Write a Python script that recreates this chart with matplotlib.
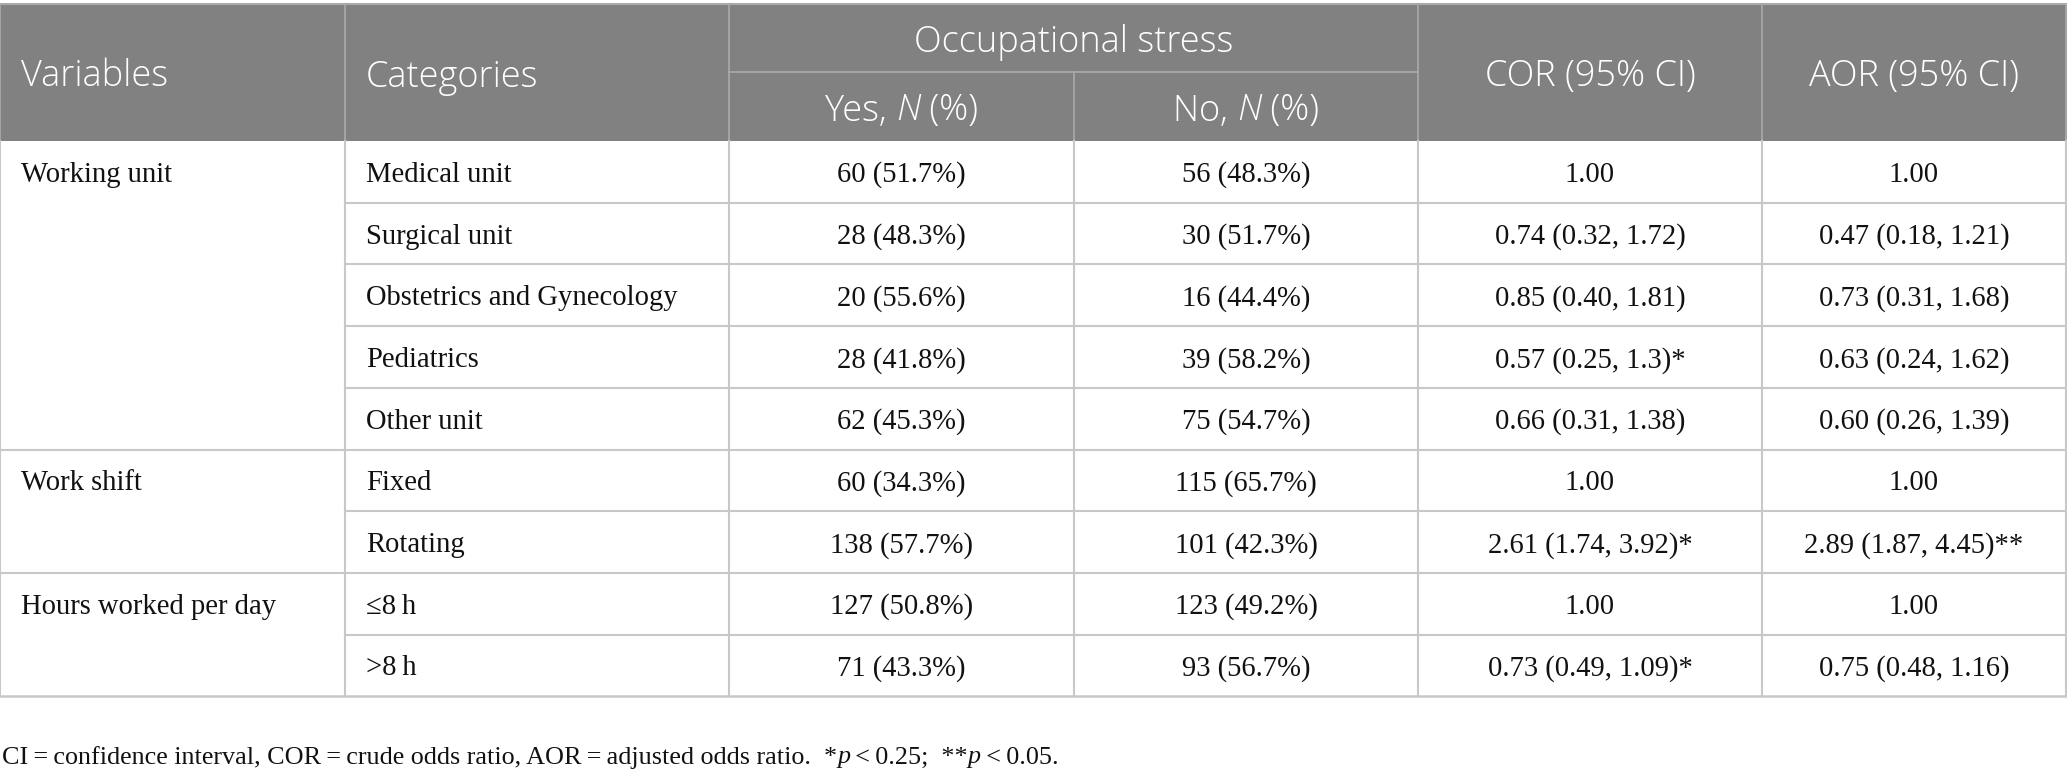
import matplotlib
matplotlib.use("Agg")
import matplotlib.pyplot as plt
from matplotlib.patches import Rectangle

# ---- table content ----
variables = ["Working unit", "Work shift", "Hours worked per day"]
group_sizes = [5, 2, 2]
categories = ["Medical unit", "Surgical unit", "Obstetrics and Gynecology", "Pediatrics",
              "Other unit", "Fixed", "Rotating", "\u22648\u2009h", ">8\u2009h"]
yes_n = [60, 28, 20, 28, 62, 60, 138, 127, 71]
yes_pct = [51.7, 48.3, 55.6, 41.8, 45.3, 34.3, 57.7, 50.8, 43.3]
no_n = [56, 30, 16, 39, 75, 115, 101, 123, 93]
no_pct = [48.3, 51.7, 44.4, 58.2, 54.7, 65.7, 42.3, 49.2, 56.7]
cor = ["1.00", "0.74 (0.32, 1.72)", "0.85 (0.40, 1.81)", "0.57 (0.25, 1.3)*",
       "0.66 (0.31, 1.38)", "1.00", "2.61 (1.74, 3.92)*", "1.00", "0.73 (0.49, 1.09)*"]
aor = ["1.00", "0.47 (0.18, 1.21)", "0.73 (0.31, 1.68)", "0.63 (0.24, 1.62)",
       "0.60 (0.26, 1.39)", "1.00", "2.89 (1.87, 4.45)**", "1.00", "0.75 (0.48, 1.16)"]

# ---- layout (pixels) ----
W, H = 2067, 776
col_x = [0, 345, 729, 1074, 1418, 1762, 2066]
top, mid, hbot = 4, 72, 141
row_h = 61.7
pad = 21
header_bg = "#808180"
header_line = "#a9aaa9"
grid = "#c8c8c8"
serif = "Liberation Serif"
sans = "Open Sans"
body_fs = 20.6
head_fs = 26
head_w = 300

fig = plt.figure(figsize=(W / 100, H / 100), dpi=100)
ax = fig.add_axes([0, 0, 1, 1])
ax.set_xlim(0, W)
ax.set_ylim(H, 0)
ax.axis("off")
renderer = fig.canvas.get_renderer()


def runs(x, y, parts, ha="left", size=body_fs, family=serif, color="#111111", weight="normal"):
    # parts: list of (text, italic)
    widths = []
    for s, it in parts:
        t = ax.text(0, 0, s, fontsize=size, family=family, weight=weight,
                    style="italic" if it else "normal")
        widths.append(t.get_window_extent(renderer).width)
        t.remove()
    total = sum(widths)
    x0 = x - total / 2 if ha == "center" else x
    for (s, it), w in zip(parts, widths):
        ax.text(x0, y, s, fontsize=size, family=family, color=color, weight=weight,
                style="italic" if it else "normal", ha="left", va="center_baseline")
        x0 += w


def head(x, y, parts, ha="left"):
    runs(x, y, parts, ha=ha, size=head_fs, family=sans, color="white", weight=head_w)


# header
ax.add_patch(Rectangle((0, top), W, hbot - top, color=header_bg, lw=0))
ax.plot([0, W], [top, top], color=header_line, lw=1.5)
for x in col_x:
    if x == col_x[3]:
        ax.plot([x, x], [mid, hbot], color=header_line, lw=1.2)
    else:
        ax.plot([x, x], [top, hbot], color=header_line, lw=1.2)
ax.plot([col_x[2], col_x[4]], [mid, mid], color=header_line, lw=1.2)

hc = (top + hbot) / 2
head(col_x[0] + pad, hc, [("Variables", False)])
head(col_x[1] + pad, hc, [("Categories", False)])
head((col_x[2] + col_x[4]) / 2, (top + mid) / 2, [("Occupational stress", False)], ha="center")
head((col_x[2] + col_x[3]) / 2, (mid + hbot) / 2,
     [("Yes, ", False), ("N", True), (" (%)", False)], ha="center")
head((col_x[3] + col_x[4]) / 2, (mid + hbot) / 2,
     [("No, ", False), ("N", True), (" (%)", False)], ha="center")
head((col_x[4] + col_x[5]) / 2, hc, [("COR (95% CI)", False)], ha="center")
head((col_x[5] + col_x[6]) / 2, hc, [("AOR (95% CI)", False)], ha="center")

# body rows
n_rows = len(categories)
bottom = hbot + n_rows * row_h
for x in col_x:
    ax.plot([x, x], [hbot, bottom], color=grid, lw=1.5)

group_start = []
i = 0
for g in group_sizes:
    group_start.append(i)
    i += g

for r in range(n_rows):
    y0 = hbot + r * row_h
    yc = y0 + row_h / 2
    if r > 0:
        x_start = 0 if r in group_start else col_x[1]
        ax.plot([x_start, W], [y0, y0], color=grid, lw=1.5)
    runs(col_x[1] + pad, yc, [(categories[r], False)])
    runs((col_x[2] + col_x[3]) / 2, yc, [(f"{yes_n[r]} ({yes_pct[r]:.1f}%)", False)], ha="center")
    runs((col_x[3] + col_x[4]) / 2, yc, [(f"{no_n[r]} ({no_pct[r]:.1f}%)", False)], ha="center")
    runs((col_x[4] + col_x[5]) / 2, yc, [(cor[r], False)], ha="center")
    runs((col_x[5] + col_x[6]) / 2, yc, [(aor[r], False)], ha="center")

for v, s in zip(variables, group_start):
    runs(col_x[0] + pad, hbot + s * row_h + row_h / 2, [(v, False)])
ax.plot([0, W], [bottom, bottom], color=grid, lw=1.8)

# footnote
ts = "\u2009"
runs(2, 755, [(f"CI{ts}={ts}confidence interval, COR{ts}={ts}crude odds ratio, "
               f"AOR{ts}={ts}adjusted odds ratio.  *", False), ("p", True),
              (f"{ts}<{ts}0.25;  **", False), ("p", True), (f"{ts}<{ts}0.05.", False)],
     size=18.8)

fig.savefig("out.png", dpi=100)
